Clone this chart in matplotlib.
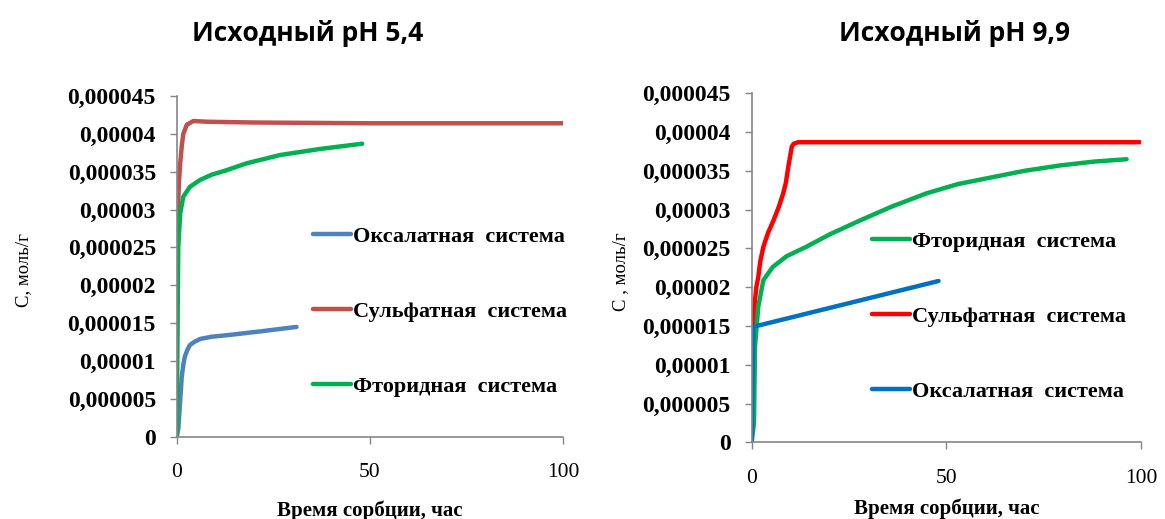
import matplotlib.pyplot as plt
from matplotlib.ticker import FuncFormatter

# --- data (C in units of 1e-5 mol/g) ---
# pH 5,4
t_ox_l = [0, 0.4, 0.9, 1.3, 1.7, 2.1, 2.7, 3.4, 4.5, 6, 9, 12.9, 21.5, 31]
c_ox_l = [0, 0.1, 0.48, 0.79, 0.95, 1.06, 1.14, 1.21, 1.25, 1.29, 1.32, 1.34, 1.39, 1.45]
t_su_l = [0, 0.1, 0.3, 0.6, 0.9, 1.3, 1.7, 2.6, 4.3, 8, 20, 50, 100]
c_su_l = [0, 2.0, 3.0, 3.38, 3.61, 3.84, 4.0, 4.12, 4.17, 4.16, 4.15, 4.14, 4.14]
t_fl_l = [0, 0.15, 0.4, 0.9, 1.7, 3.4, 6, 9, 12.9, 18, 26.7, 37, 48]
c_fl_l = [0, 1.19, 2.51, 2.95, 3.17, 3.30, 3.39, 3.46, 3.52, 3.61, 3.72, 3.80, 3.87]

# pH 9,9
t_su_r = [0, 0.2, 0.85, 1.2, 1.7, 2.2, 3, 4.2, 5.6, 7, 8.1, 8.8, 9.4, 10.3, 10.8, 12, 100]
c_su_r = [0, 1.36, 1.83, 2.0, 2.13, 2.33, 2.52, 2.70, 2.86, 3.04, 3.21, 3.35, 3.55, 3.81, 3.85, 3.87, 3.87]
t_fl_r = [0, 0.6, 0.85, 1.7, 3, 5.4, 9, 14, 20, 27.8, 36, 44.9, 53, 62, 70, 79.2, 88, 96.3]
c_fl_r = [0, 0.25, 1.23, 1.75, 2.09, 2.26, 2.40, 2.52, 2.68, 2.86, 3.04, 3.21, 3.33, 3.42, 3.50, 3.57, 3.62, 3.65]
t_ox_r = [0, 0.4, 2.1, 48]
c_ox_r = [0, 1.49, 1.51, 2.08]

lbl_ox = 'Оксалатная  система'
lbl_su = 'Сульфатная  система'
lbl_fl = 'Фторидная  система'

SERIF = 'Liberation Serif'
GRAY = '#868686'


def fmt(v, pos):
    if abs(v) < 1e-12:
        return '0'
    s = ('%.6f' % v).rstrip('0')
    return s.replace('.', ',')


def style_axes(ax, ylabel, ylab_x, xlab_y):
    ax.set_xlim(0, 100)
    ax.set_ylim(0, 4.5e-5)
    ax.set_xticks([0, 50, 100])
    ax.set_yticks([i * 5e-6 for i in range(10)])
    ax.yaxis.set_major_formatter(FuncFormatter(fmt))
    for s in ['top', 'right']:
        ax.spines[s].set_visible(False)
    for s in ['left', 'bottom']:
        ax.spines[s].set_color(GRAY)
        ax.spines[s].set_linewidth(1.2)
    ax.tick_params(direction='out', length=5, color=GRAY, width=1)
    ax.tick_params(axis='x', pad=14)
    ax.tick_params(axis='y', pad=10)
    for lab in ax.get_xticklabels():
        lab.set_fontfamily(SERIF)
        lab.set_fontsize(15.5)
    for lab in ax.get_yticklabels():
        lab.set_fontfamily(SERIF)
        lab.set_fontsize(17)
        lab.set_fontweight('bold')
    ax.set_xlabel('Время сорбции, час', fontfamily=SERIF, fontsize=15,
                  fontweight='bold')
    ax.xaxis.set_label_coords(0.5, xlab_y)
    ax.set_ylabel(ylabel, fontfamily=SERIF, fontsize=13.5)
    ax.yaxis.set_label_coords(ylab_x, 0.49)


fig = plt.figure(figsize=(11.65, 5.19), dpi=100)
kw = dict(lw=3.2, solid_joinstyle='round', solid_capstyle='round')

# left panel
ax1 = fig.add_axes([0.1517, 0.1586, 0.3316, 0.6564])
h_ox, = ax1.plot(t_ox_l, [c * 1e-5 for c in c_ox_l], color='#4F81BD', **kw)
h_su, = ax1.plot(t_su_l, [c * 1e-5 for c in c_su_l], color='#C0504D', **kw)
h_fl, = ax1.plot(t_fl_l, [c * 1e-5 for c in c_fl_l], color='#00B050', **kw)
style_axes(ax1, 'С, моль/г', -0.374, -0.186)
ax1.legend([h_ox, h_su, h_fl], [lbl_ox, lbl_su, lbl_fl], loc='upper left',
           bbox_to_anchor=(0.2687, 0.5645), bbox_transform=fig.transFigure,
           frameon=False, borderpad=0, borderaxespad=0, handlelength=1.7,
           handletextpad=0.1, labelspacing=2.45,
           prop={'family': SERIF, 'size': 16, 'weight': 'bold'})

# right panel
ax2 = fig.add_axes([0.6452, 0.1478, 0.3342, 0.6724])
g_su, = ax2.plot(t_su_r, [c * 1e-5 for c in c_su_r], color='#FF0000', **kw)
g_fl, = ax2.plot(t_fl_r, [c * 1e-5 for c in c_fl_r], color='#00B050', **kw)
g_ox, = ax2.plot(t_ox_r, [c * 1e-5 for c in c_ox_r], color='#0070C0', **kw)
style_axes(ax2, 'С , моль/г', -0.315, -0.16)
ax2.legend([g_fl, g_su, g_ox], [lbl_fl, lbl_su, lbl_ox], loc='upper left',
           bbox_to_anchor=(0.7485, 0.555), bbox_transform=fig.transFigure,
           frameon=False, borderpad=0, borderaxespad=0, handlelength=1.7,
           handletextpad=0.1, labelspacing=2.45,
           prop={'family': SERIF, 'size': 16, 'weight': 'bold'})

fig.text(0.2644, 0.9345, 'Исходный рН 5,4', ha='center', va='center',
         fontfamily='Open Sans', fontweight='bold', fontsize=19)
fig.text(0.8197, 0.936, 'Исходный рН 9,9', ha='center', va='center',
         fontfamily='Open Sans', fontweight='bold', fontsize=19)

fig.savefig('out.png', dpi=100)
